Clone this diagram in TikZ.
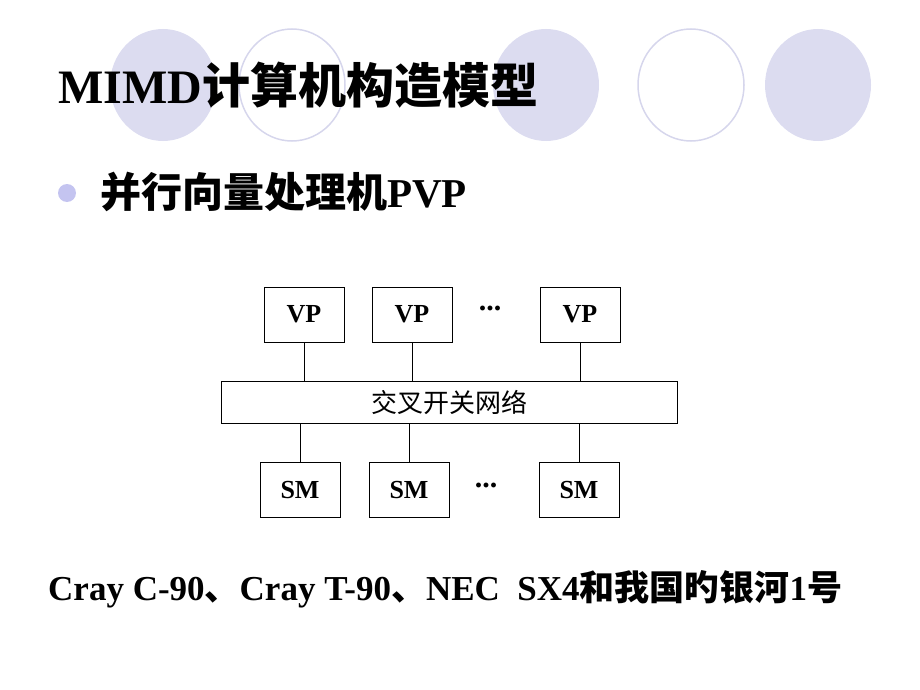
\documentclass[tikz,border=0pt]{standalone}
\usepackage{fontspec}
\setmainfont{Liberation Serif}
\newfontfamily\cjk{Noto Sans CJK SC}
\usetikzlibrary{positioning}
\definecolor{lav}{HTML}{DCDCF0}
\definecolor{lavline}{HTML}{D6D6EC}
\definecolor{dotblue}{HTML}{C4C4F0}
\tikzset{
  unit/.style={draw, line width=0.8pt, minimum width=80pt, minimum height=55pt, font=\fontsize{26}{26}\selectfont\bfseries},
  ring/.style={draw=lavline, line width=1.5pt},
  blob/.style={fill=lav},
  gap/.style={font=\fontsize{30}{30}\selectfont\bfseries}
}
\begin{document}
\begin{tikzpicture}[x=1pt, y=-1pt]
    \useasboundingbox (0,0) rectangle (920,690);
    % 背景圓
    \fill[blob] (163,85) ellipse (53 and 56);
    \draw[ring] (292,85) ellipse (53 and 56);
    \fill[blob] (546,85) ellipse (53 and 56);
    \draw[ring] (691,85) ellipse (53 and 56);
    \fill[blob] (818,85) ellipse (53 and 56);
    % 標題
    \node[anchor=west, inner sep=0pt, font=\fontsize{48}{48}\selectfont\bfseries] (title) at (58,85) {MIMD{\cjk 计算机构造模型}};
    % 項目符號
    \fill[dotblue] (67,193) circle (9);
    \node[anchor=west, inner sep=0pt, font=\fontsize{41}{41}\selectfont\bfseries] (item) at (100,192) {{\cjk 并行向量处理机}PVP};
    % VP 方塊
    \node[unit] (vp1) at (304,314.5) {VP};
    \node[unit] (vp2) at (412,314.5) {VP};
    \node[unit] (vp3) at (580,314.5) {VP};
    \node[gap] (vdots) at (490,308) {...};
    % 交叉開關網路
    \node[draw, line width=0.8pt, minimum width=456pt, minimum height=42pt, font=\cjk\fontsize{26}{26}\selectfont] (net) at (449,402) {交叉开关网络};
    % SM 方塊
    \node[unit] (sm1) at (300,490) {SM};
    \node[unit] (sm2) at (409,490) {SM};
    \node[unit] (sm3) at (579,490) {SM};
    \node[gap] (sdots) at (486,485) {...};
    % 連線
    \foreach \n in {1,2,3} {
      \draw[line width=0.6pt] (vp\n.south) -- (vp\n.south |- net.north);
      \draw[line width=0.6pt] (sm\n.north) -- (sm\n.north |- net.south);
    }
    % 實例
    \node[anchor=west, inner sep=0pt, font=\fontsize{35}{35}\selectfont\bfseries] (ex) at (48,589) {Cray C-90{\cjk 、}Cray T-90{\cjk 、}NEC\ \ SX4{\cjk 和我国旳银河}1{\cjk 号}};
\end{tikzpicture}
\end{document}
